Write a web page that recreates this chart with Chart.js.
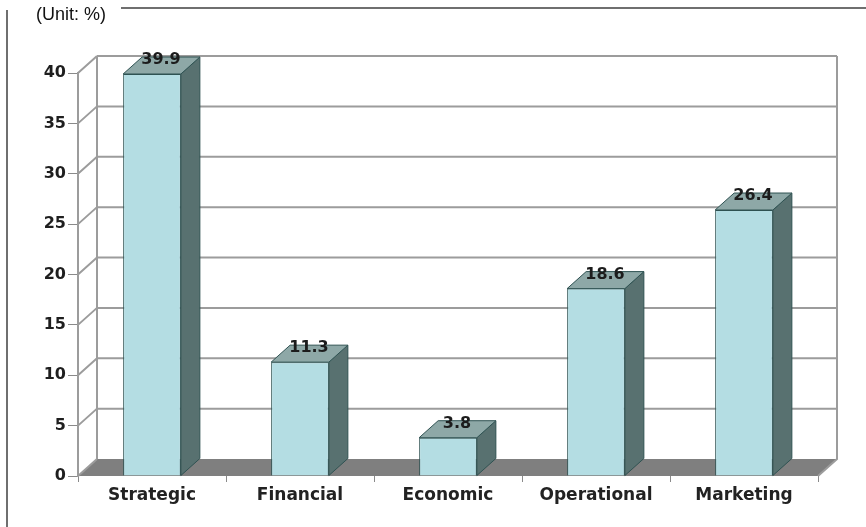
<!DOCTYPE html>
<html>
<head>
<meta charset="utf-8">
<script src="https://cdn.jsdelivr.net/npm/chart.js@4.4.0/dist/chart.umd.min.js"></script>
<style>
  body { margin: 0; background: #fff; }
  #wrap { position: relative; width: 866px; height: 527px; overflow: hidden; }
  #chart { position: absolute; left: 0; top: 0; }
  .line { position: absolute; background: #6f6f6f; pointer-events: none; }
  #unit { position: absolute; left: 36px; top: 3px; font: 18px "Liberation Sans", Arial, sans-serif; line-height: 22px; color: #111; }
</style>
</head>
<body>
<div id="wrap">
  <canvas id="chart" width="866" height="527"></canvas>
  <div class="line" style="left:121px; top:7px; width:745px; height:2px;"></div>
  <div class="line" style="left:6px; top:10px; width:2px; height:517px;"></div>
  <div id="unit">(Unit: %)</div>
</div>
<script>
// Chart data
const categories = ['Strategic', 'Financial', 'Economic', 'Operational', 'Marketing'];
const shares = [39.9, 11.3, 3.8, 18.6, 26.4];
const yTicks = [0, 5, 10, 15, 20, 25, 30, 35, 40];

// 3D depth offset (px)
const DX = 19;
const DY = -17;

// Draw the walls, floor and back gridlines behind the bars
const walls3d = {
    id: 'walls3d',
    beforeDatasetsDraw(chart) {
        const ctx = chart.ctx;
        const area = chart.chartArea;
        const y = chart.scales.y;
        const base = y.getPixelForValue(0);
        const top = y.getPixelForValue(40);

        ctx.save();
        // floor
        ctx.fillStyle = '#7f7f7f';
        ctx.beginPath();
        ctx.moveTo(area.left, base);
        ctx.lineTo(area.right, base);
        ctx.lineTo(area.right + DX, base + DY);
        ctx.lineTo(area.left + DX, base + DY);
        ctx.closePath();
        ctx.fill();

        // back wall gridlines and left wall diagonals
        ctx.strokeStyle = '#9c9c9c';
        ctx.lineWidth = 2;
        yTicks.forEach(v => {
            const py = y.getPixelForValue(v);
            ctx.beginPath();
            if (v > 0) {
                ctx.moveTo(area.left + DX, py + DY);
                ctx.lineTo(area.right + DX, py + DY);
            }
            ctx.moveTo(area.left, py);
            ctx.lineTo(area.left + DX, py + DY);
            ctx.stroke();
        });

        // wall edges
        ctx.beginPath();
        ctx.moveTo(area.left + DX, top + DY);
        ctx.lineTo(area.left + DX, base + DY);
        ctx.moveTo(area.right + DX, top + DY);
        ctx.lineTo(area.right + DX, base + DY);
        ctx.lineTo(area.right, base);
        ctx.stroke();
        ctx.restore();
    },
    // side and top faces of each column, then the value labels
    afterDatasetsDraw(chart) {
        const ctx = chart.ctx;
        const meta = chart.getDatasetMeta(0);
        ctx.save();
        ctx.lineWidth = 1;
        ctx.strokeStyle = '#2f5252';
        meta.data.forEach((bar, i) => {
            const p = bar.getProps(['x', 'y', 'base', 'width'], true);
            const l = p.x - p.width / 2;
            const r = p.x + p.width / 2;

            ctx.fillStyle = '#587170';
            ctx.beginPath();
            ctx.moveTo(r, p.y);
            ctx.lineTo(r + DX, p.y + DY);
            ctx.lineTo(r + DX, p.base + DY);
            ctx.lineTo(r, p.base);
            ctx.closePath();
            ctx.fill();
            ctx.stroke();

            ctx.fillStyle = '#8ea8a7';
            ctx.beginPath();
            ctx.moveTo(l, p.y);
            ctx.lineTo(l + DX, p.y + DY);
            ctx.lineTo(r + DX, p.y + DY);
            ctx.lineTo(r, p.y);
            ctx.closePath();
            ctx.fill();
            ctx.stroke();

            ctx.fillStyle = '#1c1c1c';
            ctx.font = 'bold 16px "DejaVu Sans", sans-serif';
            ctx.textAlign = 'center';
            ctx.textBaseline = 'middle';
            ctx.fillText(shares[i].toFixed(1), p.x + 9, p.y - 14);
        });
        ctx.restore();
    }
};

const ctx = document.getElementById('chart').getContext('2d');
new Chart(ctx, {
    type: 'bar',
    data: {
        labels: categories,
        datasets: [{
            data: shares,
            backgroundColor: '#b4dde3',
            borderColor: '#2f5252',
            borderWidth: 1,
            categoryPercentage: 1,
            barPercentage: 0.39
        }]
    },
    options: {
        responsive: false,
        animation: false,
        layout: { padding: { left: 0, right: 48, top: 73, bottom: 0 } },
        plugins: {
            legend: { display: false },
            tooltip: { enabled: false }
        },
        scales: {
            x: {
                afterFit: scale => { scale.height = 51; },
                grid: { offset: true, drawOnChartArea: false, tickLength: 6, color: '#8a8a8a' },
                border: { display: false },
                ticks: {
                    color: '#222',
                    padding: 3,
                    font: { family: '"DejaVu Sans", sans-serif', size: 17, weight: 'bold' }
                }
            },
            y: {
                min: 0,
                max: 40,
                afterFit: scale => { scale.width = 78; },
                afterBuildTicks: scale => { scale.ticks = yTicks.map(v => ({ value: v })); },
                grid: { drawOnChartArea: false, tickLength: 10, color: '#8a8a8a' },
                border: { display: true, color: '#9c9c9c', width: 2 },
                ticks: {
                    color: '#1e1e1e',
                    padding: 2,
                    font: { family: '"DejaVu Sans", sans-serif', size: 16, weight: 'bold' }
                }
            }
        }
    },
    plugins: [walls3d]
});
</script>
</body>
</html>
